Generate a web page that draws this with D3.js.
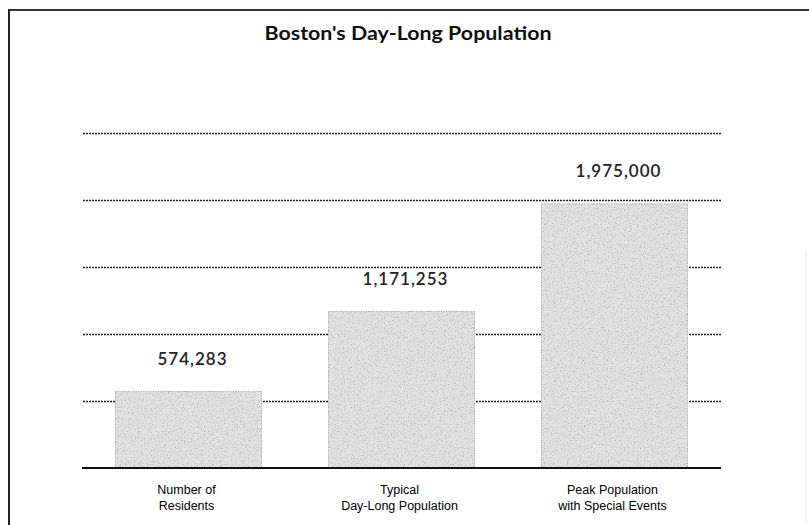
<!DOCTYPE html>
<html>
<head>
<meta charset="utf-8">
<script src="https://cdn.jsdelivr.net/npm/d3@7"></script>
<style>
  html, body { margin: 0; padding: 0; background: #fff; }
  svg { display: block; }
</style>
</head>
<body>
<svg id="chart" width="809" height="525"></svg>
<script>
// Boston's day-long population: residents, typical day, peak with events
const categories = [
  ["Number of", "Residents"],
  ["Typical", "Day-Long Population"],
  ["Peak Population", "with Special Events"]
];
const values = [574283, 1171253, 1975000];
const valueLabels = ["574,283", "1,171,253", "1,975,000"];
const gridTicks = [500000, 1000000, 1500000, 2000000, 2500000];
const title = "Boston's Day-Long Population";

const svg = d3.select("#chart");
const W = 809, H = 525;

// Grainy grey fill for the bars
const defs = svg.append("defs");
const f = defs.append("filter").attr("id", "grain")
  .attr("x", 0).attr("y", 0).attr("width", 1).attr("height", 1);
f.append("feTurbulence").attr("type", "fractalNoise")
  .attr("baseFrequency", 0.7).attr("numOctaves", 3).attr("seed", 7).attr("result", "noise");
f.append("feColorMatrix").attr("in", "noise").attr("type", "matrix")
  .attr("values", "0 0 0 0 0  0 0 0 0 0  0 0 0 0 0  0 0 0 -1.3 0.62").attr("result", "dots");
f.append("feComposite").attr("in", "dots").attr("in2", "SourceGraphic").attr("operator", "in").attr("result", "clipped");
f.append("feMerge").call(m => {
  m.append("feMergeNode").attr("in", "SourceGraphic");
  m.append("feMergeNode").attr("in", "clipped");
});

// Page frame (top and left rules)
svg.append("line").attr("x1", 9).attr("x2", W).attr("y1", 10).attr("y2", 10)
  .attr("stroke", "#333").attr("stroke-width", 2);
svg.append("line").attr("x1", 9).attr("x2", 9).attr("y1", 9).attr("y2", H)
  .attr("stroke", "#222").attr("stroke-width", 2);
svg.append("line").attr("x1", 806).attr("x2", 806).attr("y1", 250).attr("y2", H)
  .attr("stroke", "#e8e8e8").attr("stroke-width", 1);

// Scales
const x = d3.scaleBand()
  .domain(d3.range(values.length))
  .range([82, 721])
  .paddingInner(0.31)
  .paddingOuter(0.155);
const y = d3.scaleLinear().domain([0, 2500000]).range([468, 133]);

// Dotted gridlines
svg.append("g").selectAll("line").data(gridTicks).join("line")
  .attr("x1", 83).attr("x2", 722)
  .attr("y1", d => Math.round(y(d)) + 0.5).attr("y2", d => Math.round(y(d)) + 0.5)
  .attr("stroke", "#222").attr("stroke-width", 1.4)
  .attr("stroke-dasharray", "2,1");

// Bars
svg.append("g").selectAll("rect").data(values).join("rect")
  .attr("x", (d, i) => x(i))
  .attr("y", d => y(d))
  .attr("width", x.bandwidth())
  .attr("height", d => y(0) - y(d))
  .attr("fill", "#e2e2e2")
  .attr("filter", "url(#grain)");
svg.append("g").selectAll("rect").data(values).join("rect")
  .attr("x", (d, i) => x(i) + 0.5)
  .attr("y", d => y(d) + 0.5)
  .attr("width", x.bandwidth() - 1)
  .attr("height", d => y(0) - y(d) - 1)
  .attr("fill", "none")
  .attr("stroke", "#a0a0a0").attr("stroke-width", 0.8)
  .attr("stroke-dasharray", "1,1.5");

// Baseline
svg.append("line").attr("x1", 82).attr("x2", 721)
  .attr("y1", y(0)).attr("y2", y(0))
  .attr("stroke", "#111").attr("stroke-width", 2);

// Value labels above bars
svg.append("g").selectAll("text").data(values).join("text")
  .attr("x", (d, i) => x(i) + x.bandwidth() / 2 + 4)
  .attr("y", d => y(d) - 26)
  .attr("text-anchor", "middle")
  .attr("font-family", "Lato, 'DejaVu Sans', sans-serif")
  .attr("font-weight", 600)
  .attr("font-size", 17)
  .attr("letter-spacing", 1)
  .attr("fill", "#222")
  .text((d, i) => valueLabels[i]);

// Category labels
const cat = svg.append("g").selectAll("text").data(categories).join("text")
  .attr("text-anchor", "middle")
  .attr("font-family", "'Liberation Sans', Arial, sans-serif")
  .attr("font-size", 12.5)
  .attr("fill", "#000");
cat.each(function(lines, i) {
  const t = d3.select(this);
  lines.forEach((ln, k) => {
    t.append("tspan")
      .attr("x", x(i) + x.bandwidth() / 2 - 2)
      .attr("y", 494 + k * 16)
      .text(ln);
  });
});

// Title
svg.append("text")
  .attr("x", 408).attr("y", 40)
  .attr("text-anchor", "middle")
  .attr("font-family", "Lato, 'DejaVu Sans', sans-serif")
  .attr("font-weight", "bold")
  .attr("font-size", 18)
  .attr("fill", "#111")
  .attr("textLength", 287)
  .attr("lengthAdjust", "spacingAndGlyphs")
  .text(title);
</script>
</body>
</html>
